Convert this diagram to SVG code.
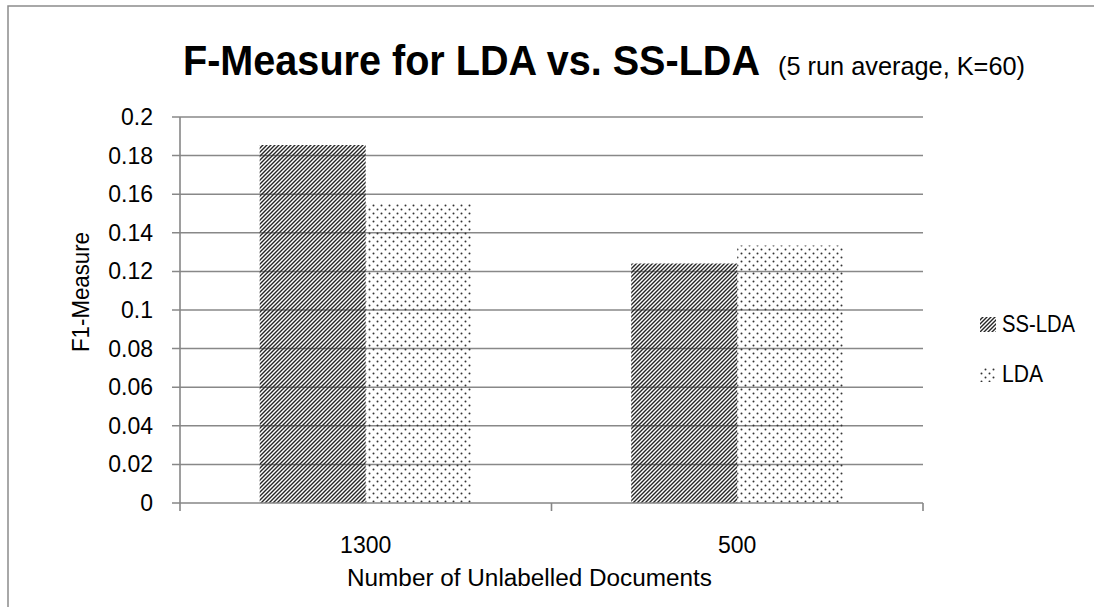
<svg xmlns="http://www.w3.org/2000/svg" width="1094" height="607" viewBox="0 0 1094 607">
  <defs>
    <!-- dark upward diagonal hatch for SS-LDA -->
    <pattern id="hatch" patternUnits="userSpaceOnUse" width="4" height="4">
      <path d="M-1,1 L1,-1 M0,4 L4,0 M3,5 L5,3" stroke="#262626" stroke-width="1.4"/>
    </pattern>
    <!-- sparse dot fill for LDA -->
    <pattern id="dots" patternUnits="userSpaceOnUse" width="8" height="8">
      <circle cx="1.5" cy="1.5" r="1" fill="#333"/>
      <circle cx="5.5" cy="5.5" r="1" fill="#333"/>
    </pattern>
    <style>
      .lbl { font-family: "Liberation Sans", Arial, sans-serif; fill: #000; }
      .tick { font-size: 23px; text-anchor: end; }
      .cat { font-size: 23px; text-anchor: middle; }
      .grid { stroke: #888; stroke-width: 1.5; fill: none; }
      .axis { stroke: #868686; stroke-width: 1.6; fill: none; }
    </style>
  </defs>

  <rect x="0" y="0" width="1094" height="607" fill="#fff"/>

  <!-- chart frame (only top and left edges fall inside the view) -->
  <g id="frame">
    <path d="M8,607 L8,6 L1094,6" stroke="#8c8c8c" stroke-width="1.5" fill="none"/>
  </g>

  <!-- title -->
  <g id="title" class="lbl">
    <text x="183" y="75" font-size="42" font-weight="bold" textLength="577" lengthAdjust="spacingAndGlyphs">F-Measure for LDA vs. SS-LDA</text>
    <text x="778" y="75" font-size="26" textLength="247" lengthAdjust="spacingAndGlyphs">(5 run average, K=60)</text>
  </g>

  <!-- horizontal gridlines every 0.02 -->
  <g id="gridlines" class="grid">
    <line x1="172" y1="117" x2="923" y2="117"/>
    <line x1="172" y1="155.6" x2="923" y2="155.6"/>
    <line x1="172" y1="194.2" x2="923" y2="194.2"/>
    <line x1="172" y1="232.8" x2="923" y2="232.8"/>
    <line x1="172" y1="271.4" x2="923" y2="271.4"/>
    <line x1="172" y1="310" x2="923" y2="310"/>
    <line x1="172" y1="348.6" x2="923" y2="348.6"/>
    <line x1="172" y1="387.2" x2="923" y2="387.2"/>
    <line x1="172" y1="425.8" x2="923" y2="425.8"/>
    <line x1="172" y1="464.4" x2="923" y2="464.4"/>
  </g>

  <!-- bars -->
  <g id="bars">
    <rect id="bar-sslda-1300" x="259.7" y="145" width="106" height="358" fill="url(#hatch)"/>
    <rect id="bar-lda-1300" x="365.7" y="203" width="106" height="300" fill="url(#dots)"/>
    <rect id="bar-sslda-500" x="631.2" y="263.5" width="106" height="239.5" fill="url(#hatch)"/>
    <rect id="bar-lda-500" x="737.2" y="245.5" width="106" height="257.5" fill="url(#dots)"/>
  </g>

  <!-- axes and ticks -->
  <g id="axes" class="axis">
    <line x1="180" y1="117" x2="180" y2="511"/>
    <line x1="172" y1="503" x2="923" y2="503"/>
    <line x1="551.5" y1="503" x2="551.5" y2="511"/>
    <line x1="923" y1="503" x2="923" y2="511"/>
  </g>

  <!-- y tick labels -->
  <g id="y-labels" class="lbl tick">
    <text x="153" y="125">0.2</text>
    <text x="153" y="163.6">0.18</text>
    <text x="153" y="202.2">0.16</text>
    <text x="153" y="240.8">0.14</text>
    <text x="153" y="279.4">0.12</text>
    <text x="153" y="318">0.1</text>
    <text x="153" y="356.6">0.08</text>
    <text x="153" y="395.2">0.06</text>
    <text x="153" y="433.8">0.04</text>
    <text x="153" y="472.4">0.02</text>
    <text x="153" y="511">0</text>
  </g>

  <!-- category labels -->
  <g id="x-labels" class="lbl cat">
    <text x="365.7" y="553">1300</text>
    <text x="737.2" y="553">500</text>
  </g>

  <!-- axis titles -->
  <g id="axis-titles" class="lbl">
    <text x="347" y="586" font-size="23" textLength="365" lengthAdjust="spacingAndGlyphs">Number of Unlabelled Documents</text>
    <text transform="translate(89,292) rotate(-90)" font-size="23" text-anchor="middle" textLength="120" lengthAdjust="spacingAndGlyphs">F1-Measure</text>
  </g>

  <!-- legend -->
  <g id="legend">
    <g id="legend-sslda">
      <rect x="980" y="317" width="16" height="15" fill="url(#hatch)"/>
      <text class="lbl" x="1002" y="332" font-size="23" textLength="73" lengthAdjust="spacingAndGlyphs">SS-LDA</text>
    </g>
    <g id="legend-lda">
      <rect x="980" y="368" width="16" height="14" fill="url(#dots)"/>
      <text class="lbl" x="1002" y="381.5" font-size="23" textLength="41" lengthAdjust="spacingAndGlyphs">LDA</text>
    </g>
  </g>
</svg>
